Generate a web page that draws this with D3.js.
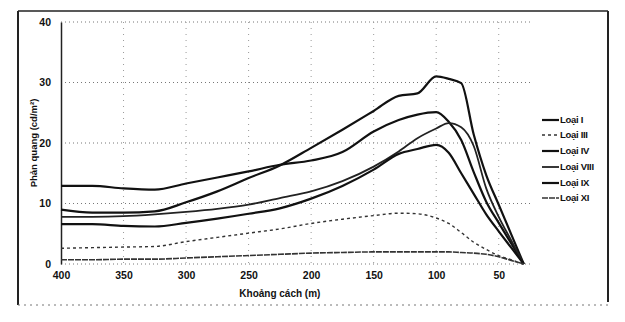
<!DOCTYPE html>
<html>
<head>
<meta charset="utf-8">
<script src="https://cdn.jsdelivr.net/npm/d3@7"></script>
<style>
  html, body { margin: 0; padding: 0; background: #fff; }
  svg { display: block; }
  text { font-family: "Liberation Sans", Arial, sans-serif; font-weight: bold; fill: #111; }
</style>
</head>
<body>
<svg id="chart" width="625" height="322"></svg>
<script>
// Distance from the sign (m), shared by every series
const distances = [400, 375, 350, 325, 300, 275, 250, 225, 200, 175, 150, 130, 115, 100, 90, 80, 70, 60, 50, 40, 30];

// Retroreflection (cd/m²) for each sheeting type
const loaiI    = [12.9, 12.9, 12.5, 12.3, 13.3, 14.3, 15.3, 16.4, 17.1, 18.5, 21.9, 23.8, 24.7, 25.1, 23.5, 20.5, 15.2, 10.3, 6.8, 3.4, 0];
const loaiIII  = [2.6, 2.7, 2.8, 2.9, 3.7, 4.4, 5.1, 5.8, 6.7, 7.4, 8.0, 8.4, 8.3, 7.6, 6.7, 5.2, 3.6, 2.4, 1.4, 0.7, 0];
const loaiIV   = [9.0, 8.5, 8.5, 8.7, 10.2, 12.0, 14.2, 16.3, 19.2, 22.2, 25.3, 27.8, 28.2, 31.0, 30.6, 29.9, 21.4, 14.7, 9.8, 4.9, 0];
const loaiVIII = [7.8, 7.8, 7.9, 8.2, 8.6, 9.1, 9.8, 10.9, 12.0, 13.7, 16.1, 18.6, 20.8, 22.4, 23.3, 22.6, 19.5, 12.5, 7.8, 3.9, 0];
const loaiIX   = [6.6, 6.6, 6.3, 6.2, 6.8, 7.5, 8.3, 9.2, 10.8, 12.9, 15.6, 18.2, 19.0, 19.7, 18.4, 15.0, 11.6, 8.2, 5.4, 2.7, 0];
const loaiXI   = [0.7, 0.7, 0.8, 0.8, 1.0, 1.2, 1.4, 1.6, 1.8, 1.9, 2.0, 2.0, 2.0, 2.0, 2.0, 1.9, 1.8, 1.6, 1.2, 0.6, 0];

const seriesNames = ["Loại I", "Loại III", "Loại IV", "Loại VIII", "Loại IX", "Loại XI"];
const seriesValues = [loaiI, loaiIII, loaiIV, loaiVIII, loaiIX, loaiXI];

const xTicks = [400, 350, 300, 250, 200, 150, 100, 50];
const yTicks = [0, 10, 20, 30, 40];

// Line style for each type
const styles = {
  "Loại I":    { width: 2.2, dash: null,  color: "#111" },
  "Loại III":  { width: 1.4, dash: "3,3", color: "#333" },
  "Loại IV":   { width: 2.2, dash: null,  color: "#111" },
  "Loại VIII": { width: 1.8, dash: null,  color: "#222" },
  "Loại IX":   { width: 2.2, dash: null,  color: "#111" },
  "Loại XI":   { width: 1.6, dash: "6,1", color: "#333" }
};

const svg = d3.select("#chart");

const x = d3.scaleLinear().domain([400, 25]).range([61, 530]);
const y = d3.scaleLinear().domain([0, 40]).range([264, 22]);

// Outer frame
svg.append("line").attr("x1", 18).attr("x2", 608).attr("y1", 11).attr("y2", 11)
  .attr("stroke", "#222").attr("stroke-width", 1.5);
svg.append("line").attr("x1", 18).attr("x2", 18).attr("y1", 11).attr("y2", 305)
  .attr("stroke", "#222").attr("stroke-width", 2);
svg.append("line").attr("x1", 608).attr("x2", 608).attr("y1", 11).attr("y2", 302)
  .attr("stroke", "#222").attr("stroke-width", 2);
svg.append("line").attr("x1", 18).attr("x2", 608).attr("y1", 305).attr("y2", 305)
  .attr("stroke", "#777").attr("stroke-width", 1).attr("stroke-dasharray", "2,4");

// Dotted grid
const grid = svg.append("g");
grid.selectAll("line.h").data(yTicks).join("line")
  .attr("x1", x(400)).attr("x2", x(25))
  .attr("y1", d => y(d)).attr("y2", d => y(d))
  .attr("stroke", "#777").attr("stroke-width", 1).attr("stroke-dasharray", "1,3");
grid.selectAll("line.v").data(xTicks.filter(d => d !== 400)).join("line")
  .attr("x1", d => x(d)).attr("x2", d => x(d))
  .attr("y1", y(40)).attr("y2", y(0))
  .attr("stroke", "#999").attr("stroke-width", 1).attr("stroke-dasharray", "1,5");

// Axes
const yAxis = svg.append("g").attr("transform", `translate(${x(400)},0)`)
  .call(d3.axisLeft(y).tickValues(yTicks).tickSize(0).tickPadding(10));
yAxis.select(".domain").attr("stroke", "#222").attr("stroke-width", 1.5);
yAxis.selectAll("text").attr("font-size", 10.5);

const xAxis = svg.append("g").attr("transform", `translate(0,${y(0)})`)
  .call(d3.axisBottom(x).tickValues(xTicks).tickSize(0).tickPadding(8));
xAxis.select(".domain").remove();
xAxis.selectAll("text").attr("font-size", 10.5);

// Axis titles
svg.append("text").attr("x", x(225)).attr("y", 297)
  .attr("text-anchor", "middle").attr("font-size", 10).text("Khoảng cách (m)");
svg.append("text").attr("transform", `translate(37,${y(20)}) rotate(-90)`)
  .attr("text-anchor", "middle").attr("font-size", 9.5).text("Phản quang (cd/m²)");

// Curves
const line = d3.line()
  .x(d => x(d[0])).y(d => y(d[1]))
  .curve(d3.curveMonotoneX);

seriesNames.forEach((name, i) => {
  const pts = distances.map((d, j) => [d, seriesValues[i][j]]);
  const s = styles[name];
  svg.append("path").datum(pts)
    .attr("d", line)
    .attr("fill", "none")
    .attr("stroke", s.color)
    .attr("stroke-width", s.width)
    .attr("stroke-dasharray", s.dash)
    .attr("stroke-linejoin", "round");
});

// Legend
const legendY = [120, 135, 151, 167, 183, 198];
const legend = svg.append("g");
seriesNames.forEach((name, i) => {
  const s = styles[name];
  legend.append("line")
    .attr("x1", 542).attr("x2", 559)
    .attr("y1", legendY[i]).attr("y2", legendY[i])
    .attr("stroke", s.color).attr("stroke-width", s.width)
    .attr("stroke-dasharray", s.dash);
  legend.append("text")
    .attr("x", 560).attr("y", legendY[i]).attr("dy", "0.35em")
    .attr("font-size", 9.5).attr("letter-spacing", -0.3).text(name);
});
</script>
</body>
</html>
